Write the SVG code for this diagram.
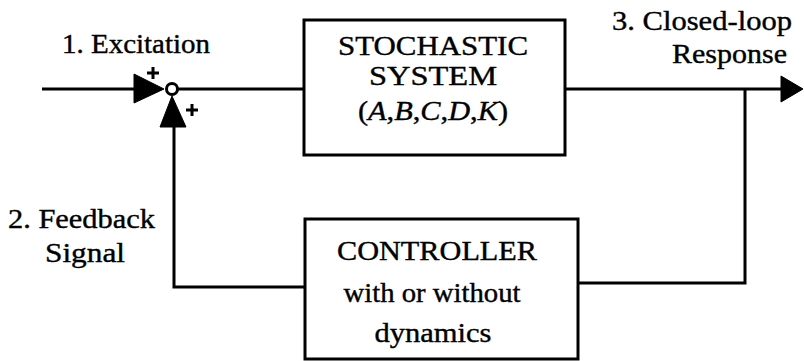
<svg xmlns="http://www.w3.org/2000/svg" width="804" height="361" viewBox="0 0 804 361">
  <style>
    .wire { fill: none; stroke: #000; stroke-width: 3; stroke-linejoin: miter; }
    .box { fill: #fff; stroke: #000; stroke-width: 3; }
    .lbl { fill: #000; stroke: #000; stroke-width: 0.4; font-family: Liberation Serif, Times New Roman, serif; font-size: 28px; }
    .mid { text-anchor: middle; }
    .head { fill: #000; stroke: #000; stroke-width: 1; stroke-linejoin: round; }
  </style>
  <rect width="804" height="361" fill="#fff"/>

  <!-- connectors -->
  <g id="connectors">
    <!-- excitation input into summing junction -->
    <line class="wire" x1="42" y1="89" x2="160" y2="89"/>
    <polygon class="head" points="134,74 164,89 134,103"/>
    <!-- junction to stochastic system -->
    <line class="wire" x1="177" y1="89" x2="304" y2="89"/>
    <!-- system output, closed-loop response -->
    <line class="wire" x1="565" y1="89" x2="785" y2="89"/>
    <polygon class="head" points="781,76 803,89 781,102"/>
    <!-- response tapped down to the controller -->
    <polyline class="wire" points="745,89 745,283 578,283"/>
    <!-- controller output back up into the junction -->
    <polyline class="wire" points="305,287 174,287 174,120"/>
    <polygon class="head" points="160,127 172,96 186,127"/>
    <!-- junction signs -->
    <path class="wire" d="M147,73 h12 M153,67 v12 M186,110 h12 M192,104 v12" stroke-width="2"/>
  </g>

  <!-- summing junction -->
  <g id="sum">
    <circle cx="172" cy="89" r="5.5" fill="#fff" stroke="#000" stroke-width="3"/>
  </g>

  <!-- stochastic system block -->
  <g id="system">
    <rect class="box" x="304" y="20" width="261" height="135"/>
    <text class="lbl mid" x="433" y="55" textLength="190" lengthAdjust="spacingAndGlyphs">STOCHASTIC</text>
    <text class="lbl mid" x="433" y="85" textLength="128" lengthAdjust="spacingAndGlyphs">SYSTEM</text>
    <text class="lbl mid" x="433" y="120" textLength="150" lengthAdjust="spacingAndGlyphs">(<tspan font-style="italic">A</tspan>,<tspan font-style="italic">B</tspan>,<tspan font-style="italic">C</tspan>,<tspan font-style="italic">D</tspan>,<tspan font-style="italic">K</tspan>)</text>
  </g>

  <!-- controller block -->
  <g id="controller">
    <rect class="box" x="305" y="219" width="273" height="140"/>
    <text class="lbl mid" x="437" y="260" textLength="200" lengthAdjust="spacingAndGlyphs">CONTROLLER</text>
    <text class="lbl mid" x="432" y="302" textLength="177" lengthAdjust="spacingAndGlyphs">with or without</text>
    <text class="lbl mid" x="433" y="342" textLength="117" lengthAdjust="spacingAndGlyphs">dynamics</text>
  </g>

  <!-- signal labels -->
  <g id="excitation">
    <text class="lbl" x="62" y="53" textLength="148" lengthAdjust="spacingAndGlyphs">1. Excitation</text>
  </g>
  <g id="feedback">
    <text class="lbl" x="8" y="228" textLength="147" lengthAdjust="spacingAndGlyphs">2. Feedback</text>
    <text class="lbl" x="45" y="262" textLength="80" lengthAdjust="spacingAndGlyphs">Signal</text>
  </g>
  <g id="response">
    <text class="lbl" x="612" y="30" textLength="180" lengthAdjust="spacingAndGlyphs">3. Closed-loop</text>
    <text class="lbl" x="672" y="63" textLength="115" lengthAdjust="spacingAndGlyphs">Response</text>
  </g>
</svg>
